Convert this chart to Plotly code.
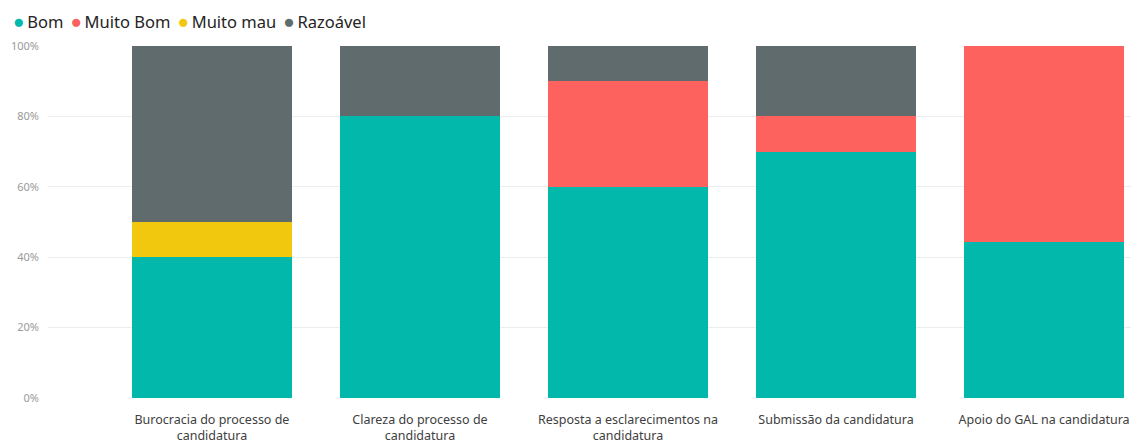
import plotly.graph_objects as go

# Survey answers per topic (response counts, normalised to 100% per bar)
categories = [
    "Burocracia do processo de candidatura",
    "Clareza do processo de candidatura",
    "Resposta a esclarecimentos na candidatura",
    "Submissão da candidatura",
    "Apoio do GAL na candidatura",
]
tick_labels = [
    "Burocracia do processo de<br>candidatura",
    "Clareza do processo de<br>candidatura",
    "Resposta a esclarecimentos na<br>candidatura",
    "Submissão da candidatura",
    "Apoio do GAL na candidatura",
]
bom = [4, 8, 6, 7, 4]
muito_bom = [0, 0, 3, 1, 5]
muito_mau = [1, 0, 0, 0, 0]
razoavel = [5, 2, 1, 2, 0]

series = [
    ("Bom", bom, "#01B8AA"),
    ("Muito Bom", muito_bom, "#FD625E"),
    ("Muito mau", muito_mau, "#F2C80F"),
    ("Razoável", razoavel, "#5F6B6D"),
]

FONT = "Segoe UI, Noto Sans, Open Sans, sans-serif"

fig = go.Figure()
for name, vals, color in series:
    fig.add_trace(go.Bar(
        x=categories, y=vals, name=name,
        marker=dict(color=color, line=dict(width=0)),
        width=0.77, showlegend=False,
        hovertemplate="%{x}<br>" + name + ": %{y:.1f}%<extra></extra>",
    ))

# Legend row with round markers
legend_text = "&nbsp;&#8201;".join(
    f"<span style='color:{c};font-size:19px'>●</span>&#8201;{n}" for n, _, c in series
)
fig.add_annotation(
    text=legend_text, xref="paper", yref="paper", x=0, y=1,
    xanchor="left", yanchor="middle", xshift=-37, yshift=25,
    showarrow=False, align="left",
    font=dict(family=FONT, size=16.5, color="#252423"),
)

fig.update_layout(
    barmode="stack", barnorm="percent",
    width=1131, height=442,
    margin=dict(l=48, r=0, t=46, b=44),
    paper_bgcolor="white", plot_bgcolor="white",
    font=dict(family=FONT),
)
fig.update_xaxes(
    range=[-0.788, 4.418], tickvals=categories, ticktext=tick_labels,
    showgrid=False, zeroline=False, showline=False, ticks="",
    tickfont=dict(size=12.5, color="#404040"), automargin=False,
    ticklabelstandoff=12,
)
fig.update_yaxes(
    range=[0, 100], dtick=20, ticksuffix="%",
    showgrid=True, gridcolor="#EDEDED", gridwidth=1,
    zeroline=False, showline=False, ticks="",
    tickfont=dict(size=11, color="#9A9A9A"), automargin=False,
    ticklabelstandoff=8,
)

fig.write_html("out.html")
